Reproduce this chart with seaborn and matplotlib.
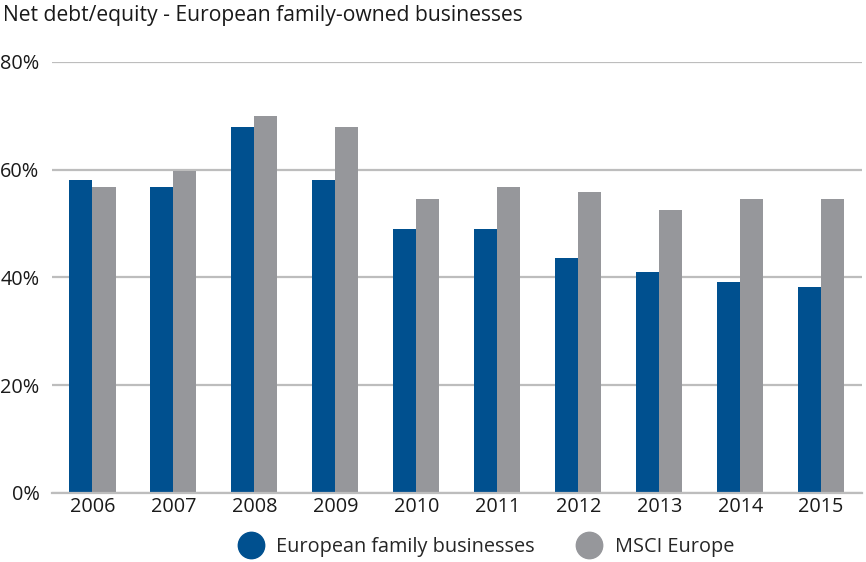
import matplotlib
matplotlib.use("Agg")
import matplotlib.pyplot as plt
import seaborn as sns
import pandas as pd
import numpy as np
from matplotlib.lines import Line2D

years = ["2006", "2007", "2008", "2009", "2010", "2011", "2012", "2013", "2014", "2015"]
family_businesses = [58.1, 56.8, 67.9, 58.1, 49.0, 49.0, 43.6, 41.0, 39.1, 38.2]
msci_europe = [56.8, 59.8, 70.0, 67.9, 54.5, 56.8, 55.8, 52.5, 54.5, 54.5]
series_names = ["European family businesses", "MSCI Europe"]
y_ticks = [0, 20, 40, 60, 80]
title = "Net debt/equity - European family-owned businesses"

colors = {"European family businesses": "#00508F", "MSCI Europe": "#96979B"}
grid_color = "#BDBDBD"
text_color = "#1a1a1a"
fs = 14.3

df = pd.DataFrame({
    "year": years * 2,
    "value": family_businesses + msci_europe,
    "series": [series_names[0]] * len(years) + [series_names[1]] * len(years),
})

sns.set_theme(style="white")
plt.rcParams["font.family"] = ["Open Sans", "DejaVu Sans"]

fig = plt.figure(figsize=(8.66, 5.62), dpi=100)
ax = fig.add_axes([0.060, 0.1228, 0.935, 0.767])

sns.barplot(data=df, x="year", y="value", hue="series", order=years,
            hue_order=series_names, palette=colors, width=0.57, gap=0,
            saturation=1, linewidth=0, ax=ax, legend=False)

ax.set_ylim(0, 80)
ax.set_xlim(-0.5, len(years) - 0.5)
ax.set_yticks(y_ticks)
ax.set_yticklabels([f"{t}%" for t in y_ticks])
ax.yaxis.grid(True, color=grid_color, linewidth=1.6)
ax.set_axisbelow(True)
ax.set_xlabel("")
ax.set_ylabel("")

for s in ["top", "right", "left"]:
    ax.spines[s].set_visible(False)
ax.spines["bottom"].set_color(grid_color)
ax.spines["bottom"].set_linewidth(1.6)

ax.tick_params(axis="y", length=0, pad=9, labelsize=fs, labelcolor=text_color)
ax.tick_params(axis="x", which="major", length=0, pad=3, labelsize=fs, labelcolor=text_color)
ax.set_xticks(np.arange(-0.5, len(years)), minor=True)
ax.tick_params(axis="x", which="minor", length=8, width=1.6, color=grid_color, direction="out")

fig.text(0.003, 0.972, title, fontsize=15.2, color=text_color, ha="left", va="center")

handles = [Line2D([0], [0], marker="o", linestyle="", markersize=19,
                  markerfacecolor=colors[n], markeredgecolor=colors[n]) for n in series_names]
fig.legend(handles, series_names, loc="center", bbox_to_anchor=(0.557, 0.027),
           ncol=2, frameon=False, fontsize=fs, handletextpad=0.3, columnspacing=1.7)

fig.savefig("out.png", dpi=100)
